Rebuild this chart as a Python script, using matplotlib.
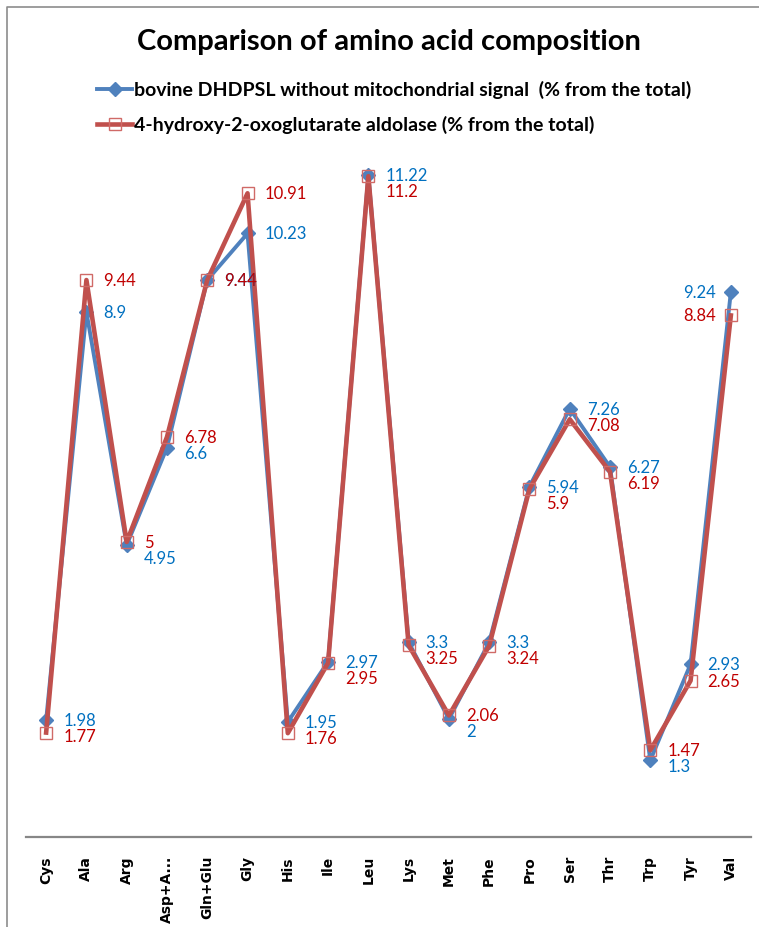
import matplotlib
matplotlib.use("Agg")
import matplotlib.pyplot as plt
from matplotlib.lines import Line2D

# Amino acid composition (% of total residues)
amino_acids = ["Cys", "Ala", "Arg", "Asp+A...", "Gln+Glu", "Gly", "His", "Ile", "Leu",
               "Lys", "Met", "Phe", "Pro", "Ser", "Thr", "Trp", "Tyr", "Val"]
dhdpsl = [1.98, 8.9, 4.95, 6.6, 9.44, 10.23, 1.95, 2.97, 11.22,
          3.3, 2.0, 3.3, 5.94, 7.26, 6.27, 1.3, 2.93, 9.24]
aldolase = [1.77, 9.44, 5.0, 6.78, 9.44, 10.91, 1.76, 2.95, 11.2,
            3.25, 2.06, 3.24, 5.9, 7.08, 6.19, 1.47, 2.65, 8.84]
dhdpsl_labels = ["1.98", "8.9", "4.95", "6.6", "9.44", "10.23", "1.95", "2.97", "11.22",
                 "3.3", "2", "3.3", "5.94", "7.26", "6.27", "1.3", "2.93", "9.24"]
aldolase_labels = ["1.77", "9.44", "5", "6.78", "9.44", "10.91", "1.76", "2.95", "11.2",
                   "3.25", "2.06", "3.24", "5.9", "7.08", "6.19", "1.47", "2.65", "8.84"]

series_names = ["bovine DHDPSL without mitochondrial signal  (% from the total)",
                "4-hydroxy-2-oxoglutarate aldolase (% from the total)"]

BLUE = "#4F81BD"
RED = "#C0504D"
BLUE_TXT = "#0070C0"
RED_TXT = "#C00000"
CAL = ["Lato", "DejaVu Sans"]

W, H = 759, 928
fig = plt.figure(figsize=(W / 100, H / 100), dpi=100)
fig.patch.set_facecolor("white")

# plot area in pixel terms
left_px, right_px, bottom_px, top_px = 26, 751, 838, 130
ax = fig.add_axes([left_px / W, 1 - bottom_px / H,
                   (right_px - left_px) / W, (bottom_px - top_px) / H])

x = list(range(len(amino_acids)))
ax.plot(x, dhdpsl, color=BLUE, lw=2.8, marker="D", ms=7, mfc=BLUE, mec=BLUE,
        solid_joinstyle="miter", zorder=3)
ax.plot(x, aldolase, color=RED, lw=3.3, marker="s", ms=8.5, mfc="none",
        mec="#D06A67", mew=1.0, zorder=4)

ax.set_xlim(-0.5, len(amino_acids) - 0.5)
ax.set_ylim(0, 12)
ax.set_yticks([])
ax.set_xticks(x)
ax.set_xticklabels(amino_acids, rotation=90, fontsize=10, fontweight="bold",
                   family="DejaVu Sans")
ax.tick_params(axis="x", length=0, pad=13)
for s in ("left", "right", "top"):
    ax.spines[s].set_visible(False)
ax.spines["bottom"].set_color("#878787")
ax.spines["bottom"].set_linewidth(1.6)

# data labels: placed beside the markers, the lower label pushed down to avoid overlap
gap = 16
for i in x:
    b_px = ax.transData.transform((i, dhdpsl[i]))[1]
    r_px = ax.transData.transform((i, aldolase[i]))[1]
    if dhdpsl[i] == aldolase[i]:
        b_dy = r_dy = 0
    elif dhdpsl[i] > aldolase[i]:
        b_dy = 0
        r_dy = min(r_px, b_px - gap) - r_px
    else:
        r_dy = 0
        b_dy = min(b_px, r_px - gap) - b_px
    if i == len(amino_acids) - 1:
        dx, ha = -15, "right"
    else:
        dx, ha = 17, "left"
    ax.annotate(dhdpsl_labels[i], (i, dhdpsl[i]), xytext=(dx, b_dy),
                textcoords="offset pixels", ha=ha, va="center", fontsize=12,
                color=BLUE_TXT, family=CAL, zorder=5)
    ax.annotate(aldolase_labels[i], (i, aldolase[i]), xytext=(dx, r_dy),
                textcoords="offset pixels", ha=ha, va="center", fontsize=12,
                color=RED_TXT, family=CAL, zorder=6)

# title
fig.text(389 / W, 1 - 42 / H, "Comparison of amino acid composition",
         ha="center", va="center", fontsize=21, fontweight="bold", family=CAL)

# legend
for (yy, color, marker, mfc, mec, lw, ms) in [
        (90, BLUE, "D", BLUE, BLUE, 2.8, 7),
        (125, RED, "s", "none", "#D06A67", 3.3, 8.5)]:
    fig.add_artist(Line2D([97 / W, 132 / W], [1 - yy / H, 1 - yy / H], color=color, lw=lw,
                          transform=fig.transFigure))
    fig.add_artist(Line2D([115 / W], [1 - yy / H], marker=marker, ms=ms, mfc=mfc, mec=mec,
                          mew=1.0 if mfc == "none" else 1, color=color,
                          transform=fig.transFigure))
for yy, name in zip((90, 125), series_names):
    fig.text(134 / W, 1 - yy / H, name, ha="left", va="center", fontsize=14,
             fontweight="bold", family=CAL)

# chart frame
fig.add_artist(Line2D([7 / W, 7 / W, 1.0], [0.0, 1 - 8 / H, 1 - 8 / H], color="#8C8C8C",
                      lw=1.2, transform=fig.transFigure))

fig.savefig("out.png", dpi=100)
